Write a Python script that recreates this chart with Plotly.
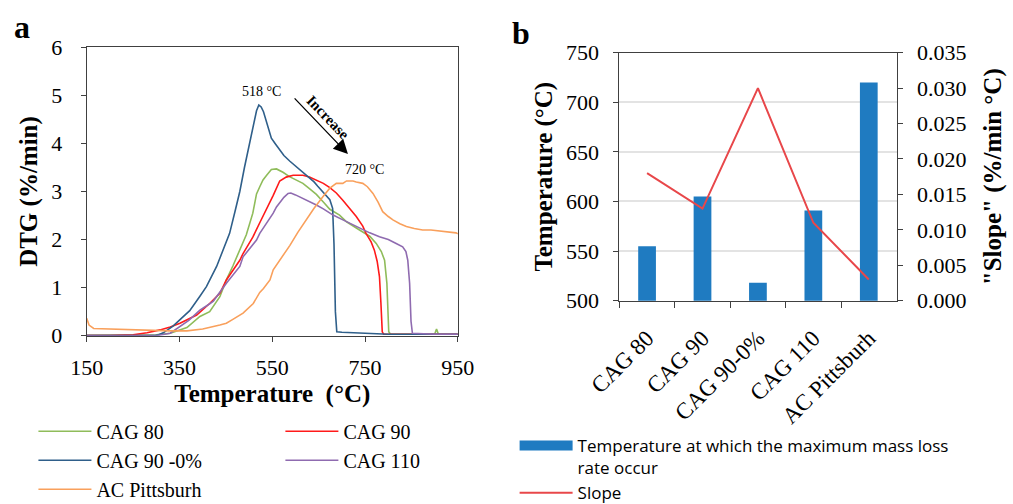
import plotly.graph_objects as go

# ---------------- Panel a : DTG curves ----------------
t_cag80 = [150, 200, 250, 300, 330, 351, 366, 394, 415, 437, 451, 465, 480, 494, 508, 516, 523, 530, 537, 548, 559, 573, 587, 601, 616, 630, 645, 660, 674, 695, 710, 738, 760, 774, 785, 792, 797, 801, 805, 850, 900, 904, 908, 950]
v_cag80 = [0.01, 0.01, 0.01, 0.02, 0.05, 0.12, 0.17, 0.40, 0.50, 0.81, 1.16, 1.45, 1.80, 2.10, 2.55, 2.95, 3.10, 3.24, 3.33, 3.46, 3.47, 3.40, 3.31, 3.24, 3.17, 3.06, 2.94, 2.78, 2.63, 2.51, 2.37, 2.20, 2.07, 1.92, 1.75, 1.57, 1.09, 0.08, 0.03, 0.03, 0.03, 0.14, 0.03, 0.03]

t_cag90 = [150, 200, 250, 280, 308, 330, 351, 379, 387, 415, 437, 451, 480, 487, 508, 523, 537, 552, 566, 580, 595, 616, 630, 645, 660, 674, 688, 702, 716, 731, 745, 752, 763, 770, 776, 781, 784, 787, 790, 850, 950]
v_cag90 = [0.0, 0.0, 0.02, 0.06, 0.12, 0.18, 0.26, 0.40, 0.43, 0.67, 0.88, 1.16, 1.57, 1.71, 2.05, 2.35, 2.62, 2.92, 3.22, 3.30, 3.34, 3.34, 3.30, 3.24, 3.17, 3.08, 2.97, 2.82, 2.66, 2.48, 2.28, 2.13, 1.95, 1.78, 1.55, 1.23, 0.70, 0.08, 0.03, 0.03, 0.03]

t_cag90_0 = [150, 250, 295, 305, 315, 336, 351, 372, 394, 408, 430, 447, 458, 470, 480, 490, 501, 510, 516, 521, 526, 531, 541, 548, 556, 566, 575, 588, 609, 630, 640, 648, 656, 663, 674, 680, 683, 686, 689, 700, 750, 800, 950]
v_cag90_0 = [0.0, 0.0, 0.0, 0.02, 0.06, 0.20, 0.33, 0.52, 0.82, 1.02, 1.44, 1.85, 2.13, 2.60, 3.00, 3.50, 4.00, 4.40, 4.68, 4.80, 4.76, 4.66, 4.31, 4.11, 4.00, 3.88, 3.75, 3.63, 3.45, 3.27, 3.20, 3.11, 3.03, 2.95, 2.83, 2.65, 1.90, 0.50, 0.08, 0.07, 0.05, 0.03, 0.03]

t_cag110 = [150, 250, 300, 330, 351, 370, 387, 394, 416, 423, 451, 480, 487, 516, 523, 552, 559, 575, 584, 590, 600, 609, 630, 645, 660, 674, 681, 700, 717, 738, 745, 760, 781, 800, 817, 831, 838, 842, 846, 849, 852, 900, 950]
v_cag110 = [0.0, 0.0, 0.0, 0.05, 0.19, 0.32, 0.47, 0.53, 0.67, 0.72, 1.09, 1.44, 1.64, 1.99, 2.13, 2.55, 2.68, 2.88, 2.96, 2.97, 2.93, 2.89, 2.80, 2.72, 2.64, 2.55, 2.51, 2.42, 2.34, 2.23, 2.20, 2.14, 2.06, 2.00, 1.92, 1.85, 1.75, 1.57, 1.09, 0.30, 0.05, 0.03, 0.03]

t_ac = [150, 155, 165, 200, 222, 260, 294, 330, 366, 400, 437, 451, 465, 481, 487, 509, 523, 531, 545, 552, 570, 588, 605, 623, 640, 659, 674, 688, 702, 710, 724, 731, 745, 755, 767, 778, 788, 800, 810, 825, 839, 856, 874, 892, 910, 930, 946, 950]
v_ac = [0.36, 0.22, 0.15, 0.14, 0.13, 0.12, 0.10, 0.10, 0.10, 0.14, 0.22, 0.26, 0.34, 0.43, 0.47, 0.67, 0.90, 0.98, 1.16, 1.37, 1.62, 1.88, 2.15, 2.41, 2.65, 2.89, 3.07, 3.17, 3.17, 3.22, 3.22, 3.20, 3.17, 3.10, 2.96, 2.78, 2.58, 2.48, 2.41, 2.33, 2.27, 2.23, 2.20, 2.20, 2.18, 2.17, 2.14, 2.12]

x_ticks_a = [150, 350, 550, 750, 950]
y_ticks_a = [0, 1, 2, 3, 4, 5, 6]

# ---------------- Panel b : bars + slope ----------------
categories = ["CAG 80", "CAG 90", "CAG 90-0%", "CAG 110", "AC Pittsburh"]
peak_temp = [555, 605, 518, 591, 720]
slope = [0.018, 0.013, 0.030, 0.011, 0.003]

SERIF = "Liberation Serif, Times New Roman, serif"
AX = "#404040"
BAR_BLUE = "#1f7bc1"

fig = go.Figure()

series = [
    ("CAG 80", t_cag80, v_cag80, "#8fbc5a", "legend", 1),
    ("CAG 90", t_cag90, v_cag90, "#ff1a1a", "legend2", 1),
    ("CAG 90 -0%", t_cag90_0, v_cag90_0, "#2f5f8a", "legend", 2),
    ("CAG 110", t_cag110, v_cag110, "#8f6bb0", "legend2", 2),
    ("AC Pittsburh", t_ac, v_ac, "#f9a05c", "legend", 3),
]
for name, t, v, c, lg, rk in series:
    fig.add_trace(go.Scatter(x=t, y=v, mode="lines", name=name,
                             line=dict(color=c, width=1.6),
                             xaxis="x", yaxis="y", legend=lg, legendrank=rk))

bar_name = "Temperature at which the maximum mass loss<br>rate occur"
fig.add_trace(go.Bar(x=categories, y=peak_temp, name=bar_name,
                     marker=dict(color=BAR_BLUE, line=dict(width=0)),
                     xaxis="x2", yaxis="y2", showlegend=False, legendgroup="bar"))
# legend key for the bar series (wide swatch like the original)
fig.add_trace(go.Scatter(x=[None], y=[None], mode="lines", name=bar_name,
                         line=dict(color=BAR_BLUE, width=10), legendgroup="bar",
                         xaxis="x2", yaxis="y2", legend="legend3", legendrank=1,
                         hoverinfo="skip"))
fig.add_trace(go.Scatter(x=categories, y=slope, mode="lines", name="Slope",
                         line=dict(color="#e8474a", width=2),
                         xaxis="x2", yaxis="y3", legend="legend3", legendrank=2))

tickfont = dict(family=SERIF, size=22, color="black")
titlefont = dict(family=SERIF, size=25, color="black", weight="bold")

fig.update_layout(
    width=1013, height=504,
    margin=dict(l=0, r=0, t=0, b=0, autoexpand=False),
    paper_bgcolor="white", plot_bgcolor="white",
    showlegend=True,
    bargap=0.68,
    xaxis=dict(domain=[0.0856, 0.452], range=[150, 950], tickvals=x_ticks_a,
               ticks="outside", ticklen=5, tickcolor=AX, showline=True, linecolor=AX,
               linewidth=1, mirror=True, showgrid=False, zeroline=False,
               automargin=False, tickfont=tickfont, ticklabelstandoff=7,
               title=dict(text="Temperature  (°C)", font=titlefont, standoff=2)),
    yaxis=dict(domain=[0.334, 0.906], range=[0, 6], tickvals=y_ticks_a,
               ticks="outside", ticklen=5, tickcolor=AX, showline=True, linecolor=AX,
               linewidth=1, mirror=True, showgrid=False, zeroline=False,
               automargin=False, tickfont=tickfont, ticklabelstandoff=14,
               title=dict(text="DTG (%/min)", font=titlefont, standoff=6)),
    xaxis2=dict(domain=[0.6114, 0.885], anchor="y2", type="category",
                tickson="boundaries", ticks="outside", ticklen=6, tickcolor=AX,
                showline=True, linecolor=AX, mirror=True, tickangle=-45,
                automargin=False, tickfont=dict(family=SERIF, size=23, color="black"),
                ticklabelstandoff=14, showgrid=False),
    yaxis2=dict(domain=[0.4034, 0.8954], anchor="x2", range=[500, 750], dtick=50,
                ticks="outside", ticklen=5, tickcolor=AX, showline=True, linecolor=AX,
                showgrid=True, gridcolor="#e3e3e3", gridwidth=2, zeroline=False,
                automargin=False, tickfont=tickfont, ticklabelstandoff=10,
                title=dict(text="Temperature (°C)", font=titlefont, standoff=6)),
    yaxis3=dict(overlaying="y2", anchor="x2", side="right", range=[0, 0.035],
                dtick=0.005, tickformat=".3f", ticks="outside", ticklen=5, tickcolor=AX,
                showline=True, linecolor=AX, showgrid=False, zeroline=False,
                automargin=False, tickfont=tickfont, ticklabelstandoff=10,
                title=dict(text="\"Slope\" (%/min °C)", font=titlefont, standoff=18)),
    legend=dict(x=0.033, y=0.183, xanchor="left", yanchor="top", itemwidth=53,
                font=dict(family=SERIF, size=20, color="black"),
                bgcolor="rgba(0,0,0,0)", tracegroupgap=0),
    legend2=dict(x=0.2768, y=0.183, xanchor="left", yanchor="top", itemwidth=53,
                 font=dict(family=SERIF, size=20, color="black"),
                 bgcolor="rgba(0,0,0,0)", tracegroupgap=0),
    legend3=dict(x=0.508, y=0.151, xanchor="left", yanchor="top", valign="top",
                 itemwidth=53,
                 font=dict(family="Open Sans, sans-serif", size=17, color="black"),
                 bgcolor="rgba(0,0,0,0)", tracegroupgap=0),
)

annotations = [
    dict(text="<b>a</b>", xref="paper", yref="paper", x=12 / 1013, y=1 - 27 / 504,
         xanchor="left", yanchor="middle", showarrow=False,
         font=dict(family=SERIF, size=32, color="black")),
    dict(text="<b>b</b>", xref="paper", yref="paper", x=510 / 1013, y=1 - 33 / 504,
         xanchor="left", yanchor="middle", showarrow=False,
         font=dict(family=SERIF, size=32, color="black")),
    dict(text="518 °C", x=526, y=5.08, xref="x", yref="y", showarrow=False,
         font=dict(family=SERIF, size=14, color="black")),
    dict(text="720 °C", x=749, y=3.45, xref="x", yref="y", showarrow=False,
         font=dict(family=SERIF, size=14, color="black")),
    dict(text="", x=713, y=3.78, ax=595, ay=4.97, xref="x", yref="y",
         axref="x", ayref="y", showarrow=True, arrowhead=2, arrowsize=2.2,
         arrowwidth=1.3, arrowcolor="black", standoff=0),
    dict(text="<b>Increase</b>", x=669, y=4.55, xref="x", yref="y", showarrow=False,
         textangle=46, font=dict(family=SERIF, size=15, color="black")),
]
fig.update_layout(annotations=annotations)

fig.write_html("out.html")
